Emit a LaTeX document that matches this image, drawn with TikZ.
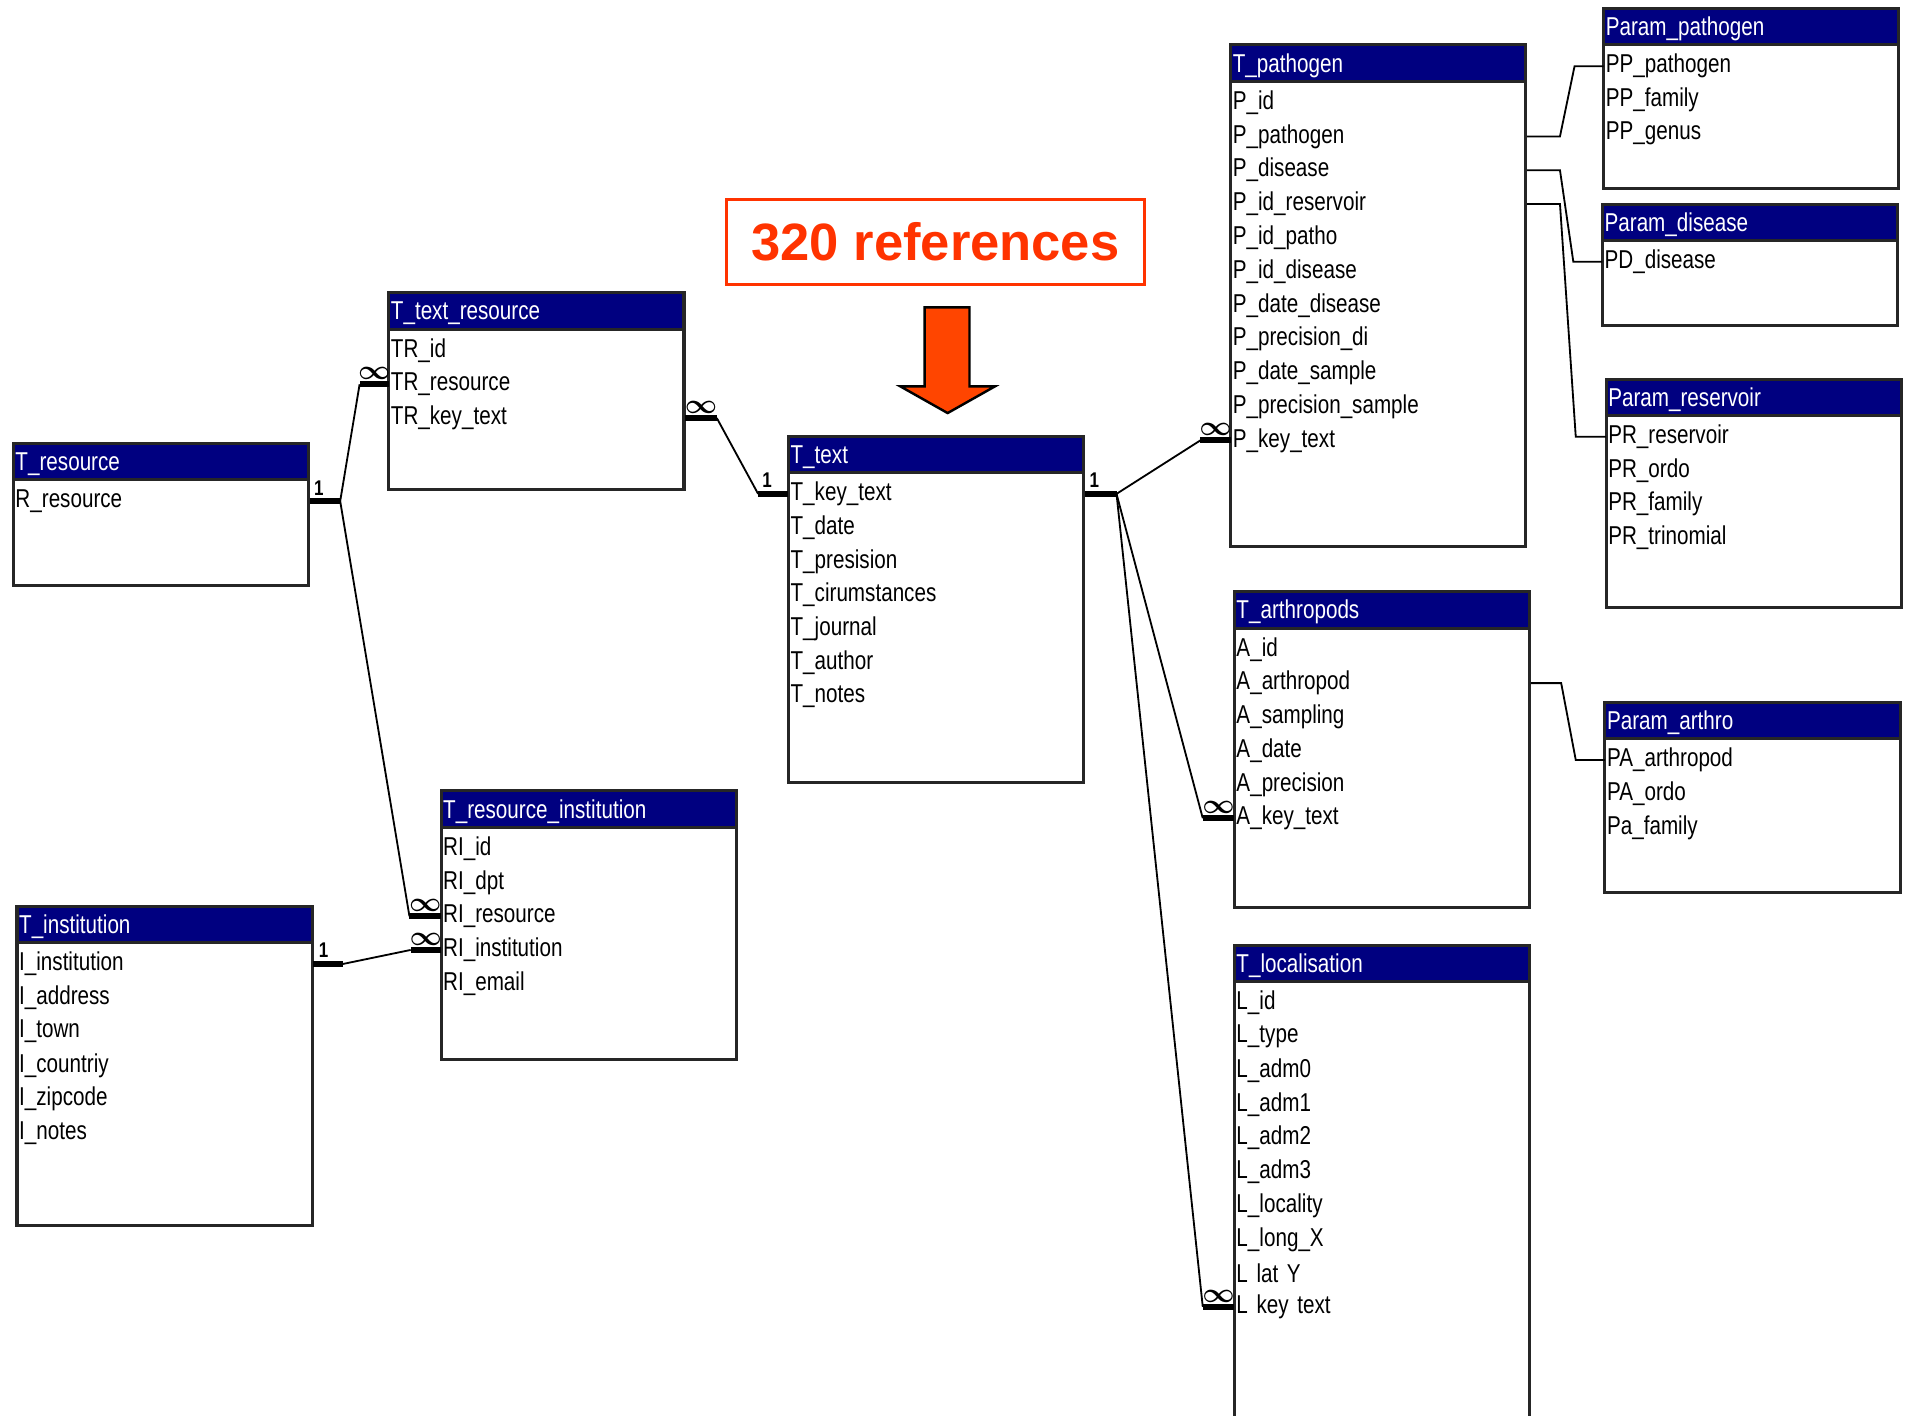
\documentclass[tikz,border=0pt]{standalone}
\usepackage{fontspec}
\setmainfont{Liberation Sans}[FakeStretch=0.8]
\newfontfamily\bigfont{Liberation Sans}
\usetikzlibrary{calc}
\definecolor{hdrblue}{RGB}{0,0,128}
\definecolor{refred}{RGB}{255,51,0}
\definecolor{arrowred}{RGB}{255,69,0}
% table: name, x, top, bottom, title, fields
\newcommand{\dbtable}[6]{%
\fill[hdrblue] (#2,#3) rectangle (#2+243,#3+30);
\draw[tblframe] (#2,#3) rectangle (#2+243,#4);
\draw[tblframe] (#2,#3+30) -- (#2+243,#3+30);
\node[tbltitle] (#1) at (#2,#3+17) {#5};
\foreach \f [count=\i] in {#6} \node[field] (#1-\i) at (#2,#3+47.5+27.8*\i-27.8) {\f};
}
\begin{document}
\begin{tikzpicture}[x=0.4pt,y=-0.4pt,
  tblframe/.style={draw=black!85,line width=1pt},
  tbltitle/.style={anchor=west,text=white,inner xsep=0.5pt,font=\fontsize{8.5}{10}\selectfont},
  field/.style={anchor=west,text width=96.2pt,align=left,inner xsep=0.5pt,inner ysep=0pt,font=\fontsize{8.5}{10}\selectfont},
  keyline/.style={line width=2pt},
  rel/.style={line width=0.6pt},
  card/.style={font=\bfseries\fontsize{7}{7}\selectfont,inner sep=1pt},
  many/.style={font=\fontsize{9}{9}\selectfont\boldmath,inner sep=0.5pt}]
\clip (0,0) rectangle (1568,1165);
\fill[white] (0,0) rectangle (1568,1165);
% tables
\dbtable{res}{11}{365}{482}{T\_resource}{R\_resource}
\dbtable{tr}{320}{241}{403}{T\_text\_resource}{TR\_id,TR\_resource,TR\_key\_text}
\dbtable{txt}{649}{359}{644}{T\_text}{T\_key\_text,T\_date,T\_presision,T\_cirumstances,T\_journal,T\_author,T\_notes}
\dbtable{ri}{363}{651}{872}{T\_resource\_institution}{RI\_id,RI\_dpt,RI\_resource,RI\_institution,RI\_email}
\dbtable{ins}{14}{746}{1009}{T\_institution}{I\_institution,I\_address,I\_town,I\_countriy,I\_zipcode,I\_notes}
\dbtable{pat}{1013}{37}{450}{T\_pathogen}{P\_id,P\_pathogen,P\_disease,P\_id\_reservoir,P\_id\_patho,P\_id\_disease,P\_date\_disease,P\_precision\_di,P\_date\_sample,P\_precision\_sample,P\_key\_text}
\dbtable{pp}{1320}{7}{155}{Param\_pathogen}{PP\_pathogen,PP\_family,PP\_genus}
\dbtable{pd}{1319}{168}{268}{Param\_disease}{PD\_disease}
\dbtable{pr}{1322}{312}{500}{Param\_reservoir}{PR\_reservoir,PR\_ordo,PR\_family,PR\_trinomial}
\dbtable{art}{1016}{487}{747}{T\_arthropods}{A\_id,A\_arthropod,A\_sampling,A\_date,A\_precision,A\_key\_text}
\dbtable{pa}{1321}{578}{735}{Param\_arthro}{PA\_arthropod,PA\_ordo,Pa\_family}
\dbtable{loc}{1016}{778}{1180}{T\_localisation}{L\_id,L\_type,L\_adm0,L\_adm1,L\_adm2,L\_adm3,L\_locality,L\_long\_X,L lat Y,L key text}
% title and arrow
\node[draw=refred,line width=0.9pt,minimum width=137.6pt,minimum height=28pt,text=refred,
  font=\bigfont\bfseries\fontsize{17.3}{17.3}\selectfont] (refs) at (770,199) {320 references};
\draw[fill=arrowred,line width=0.8pt] (761,253) -- (798,253) -- (798,318) -- (819,318)
  -- (780,340) -- (741,318) -- (761,318) -- cycle;
% resource links
\draw[keyline] (res-1.east) -- +(25,0) coordinate (r1) node[card,pos=.3,above] {1};
\draw[keyline] (tr-2.west) -- +(-24,0) coordinate (tr2) node[many,pos=.5,above] {$\infty$};
\draw[rel] (r1) -- (tr2);
\draw[keyline] (ri-3.west) -- +(-26,0) coordinate (ri3) node[many,pos=.5,above] {$\infty$};
\draw[rel] (r1) -- (ri3);
\draw[keyline] (ins-1.east) -- +(24,0) coordinate (i1) node[card,pos=.35,above] {1};
\draw[keyline] (ri-4.west) -- +(-25,0) coordinate (ri4) node[many,pos=.5,above] {$\infty$};
\draw[rel] (i1) -- (ri4);
% text links
\draw[keyline] (tr-3.east) -- +(26,0) coordinate (tr3) node[many,pos=.5,above] {$\infty$};
\draw[keyline] (txt-1.west) -- +(-25,0) coordinate (t0) node[card,pos=.7,above] {1};
\draw[rel] (tr3) -- (t0);
\draw[keyline] (txt-1.east) -- +(26,0) coordinate (t1) node[card,pos=.3,above] {1};
\draw[keyline] (pat-11.west) -- +(-25,0) coordinate (p11) node[many,pos=.5,above] {$\infty$};
\draw[rel] (t1) -- (p11);
\draw[keyline] (art-6.west) -- +(-26,0) coordinate (a6) node[many,pos=.5,above] {$\infty$};
\draw[rel] (t1) -- (a6);
\draw[keyline] (loc-10.west) -- +(-26,0) coordinate (l10) node[many,pos=.5,above] {$\infty$};
\draw[rel] (t1) -- (l10);
% parameter links
\draw[rel] (pat-2.east) -- ++(27,0) -- ($(pp-1.west)+(-24,0)$) -- (pp-1.west);
\draw[rel] (pat-3.east) -- ++(27,0) -- ($(pd-1.west)+(-24,0)$) -- (pd-1.west);
\draw[rel] (pat-4.east) -- ++(27,0) -- ($(pr-1.west)+(-25,0)$) -- (pr-1.west);
\draw[rel] (art-2.east) -- ++(25,0) -- ($(pa-1.west)+(-24,0)$) -- (pa-1.west);
\end{tikzpicture}
\end{document}
